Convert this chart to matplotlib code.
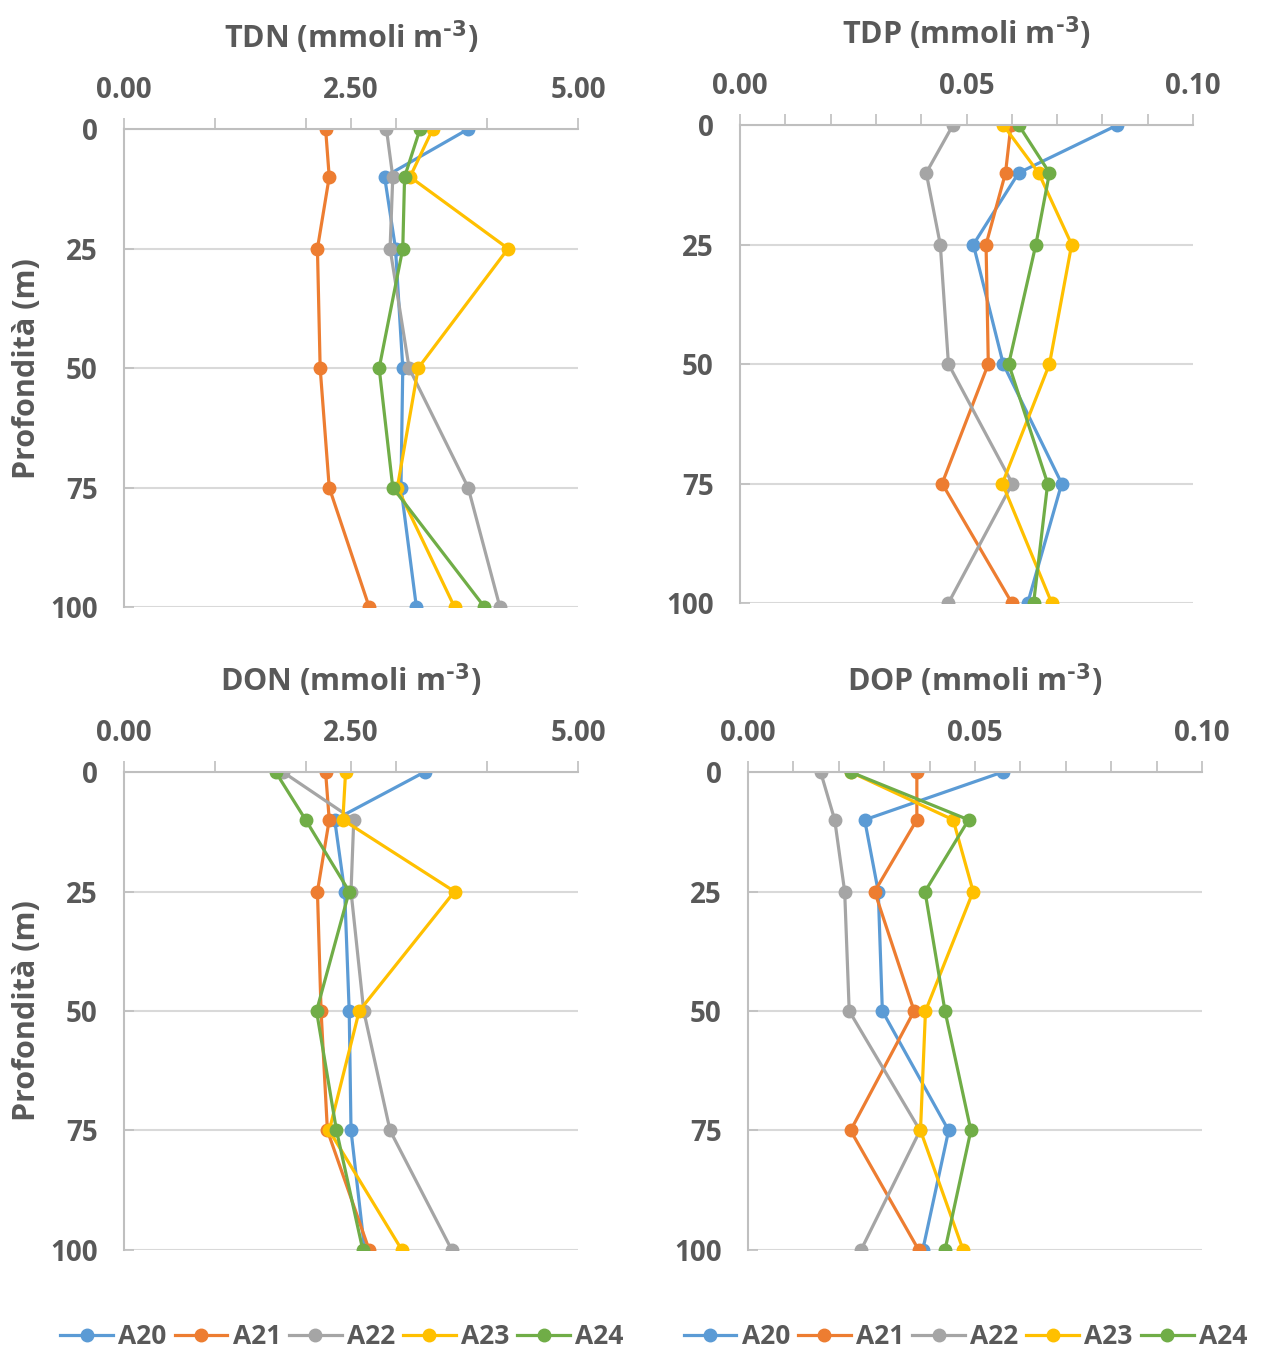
import matplotlib
matplotlib.use("Agg")
import matplotlib.pyplot as plt
from matplotlib.ticker import MultipleLocator
from matplotlib.lines import Line2D

plt.rcParams['font.family'] = ['Open Sans', 'DejaVu Sans']
plt.rcParams['font.weight'] = 'bold'
plt.rcParams['mathtext.default'] = 'regular'

depths = [0, 10, 25, 50, 75, 100]
stations = ['A20', 'A21', 'A22', 'A23', 'A24']
colors = ['#5B9BD5', '#ED7D31', '#A5A5A5', '#FFC000', '#70AD47']

tdn = {
    'A20': [3.79, 2.87, 2.99, 3.07, 3.05, 3.22],
    'A21': [2.22, 2.26, 2.13, 2.16, 2.26, 2.70],
    'A22': [2.89, 2.96, 2.93, 3.14, 3.79, 4.14],
    'A23': [3.40, 3.15, 4.23, 3.24, 3.01, 3.64],
    'A24': [3.26, 3.09, 3.07, 2.81, 2.96, 3.97],
}
tdp = {
    'A20': [0.0833, 0.0615, 0.0515, 0.0581, 0.0710, 0.0635],
    'A21': [0.0598, 0.0586, 0.0543, 0.0548, 0.0446, 0.0600],
    'A22': [0.0470, 0.0411, 0.0442, 0.0460, 0.0601, 0.0460],
    'A23': [0.0581, 0.0659, 0.0732, 0.0683, 0.0579, 0.0688],
    'A24': [0.0615, 0.0683, 0.0653, 0.0593, 0.0679, 0.0648],
}
don = {
    'A20': [3.31, 2.32, 2.43, 2.48, 2.50, 2.65],
    'A21': [2.22, 2.26, 2.13, 2.17, 2.24, 2.70],
    'A22': [1.75, 2.53, 2.50, 2.64, 2.93, 3.61],
    'A23': [2.44, 2.41, 3.64, 2.59, 2.26, 3.06],
    'A24': [1.67, 2.00, 2.48, 2.12, 2.34, 2.63],
}
dop = {
    'A20': [0.0561, 0.0257, 0.0287, 0.0296, 0.0442, 0.0385],
    'A21': [0.0372, 0.0372, 0.0279, 0.0366, 0.0226, 0.0376],
    'A22': [0.0160, 0.0191, 0.0213, 0.0223, 0.0379, 0.0249],
    'A23': [0.0226, 0.0452, 0.0496, 0.0391, 0.0380, 0.0474],
    'A24': [0.0226, 0.0486, 0.0390, 0.0434, 0.0491, 0.0434],
}

txt = '#595959'
grid = '#D9D9D9'
axc = '#BFBFBF'

fig = plt.figure(figsize=(12.62, 13.49), dpi=100)

panels = [
    (tdn, r'TDN (mmoli m$^{\text{-3}}$)', [0.0983, 0.550, 0.3597, 0.3543], 5.0, 2.5, 1.0, True),
    (tdp, r'TDP (mmoli m$^{\text{-3}}$)', [0.5864, 0.553, 0.3590, 0.3543], 0.10, 0.05, 0.01, False),
    (don, r'DON (mmoli m$^{\text{-3}}$)', [0.0983, 0.0734, 0.3597, 0.3543], 5.0, 2.5, 1.0, True),
    (dop, r'DOP (mmoli m$^{\text{-3}}$)', [0.5927, 0.0734, 0.3597, 0.3543], 0.10, 0.05, 0.01, False),
]

for data, title, rect, xmax, major, minor, ylab in panels:
    ax = fig.add_axes(rect)
    for s, c in zip(stations, colors):
        ax.plot(data[s], depths, color=c, lw=2.3, marker='o', ms=9, label=s)
    ax.set_xlim(0, xmax)
    ax.set_ylim(100, 0)
    ax.xaxis.set_major_locator(MultipleLocator(major))
    ax.xaxis.set_minor_locator(MultipleLocator(minor))
    ax.xaxis.set_major_formatter(plt.FormatStrFormatter('%.2f'))
    ax.yaxis.set_major_locator(MultipleLocator(25))
    ax.xaxis.tick_top()
    ax.tick_params(axis='x', which='both', direction='out', length=8, width=1.2,
                   color=axc, labelsize=20, labelcolor=txt, pad=9)
    ax.tick_params(axis='y', direction='in', length=7, width=1.2, color=axc,
                   labelsize=20, labelcolor=txt, pad=19)
    ax.grid(axis='y', color=grid, lw=1.5)
    ax.set_axisbelow(True)
    for sp in ['right', 'bottom']:
        ax.spines[sp].set_visible(False)
    for sp in ['left', 'top']:
        ax.spines[sp].set_color(axc)
        ax.spines[sp].set_linewidth(1.5)
    ax.set_title(title, fontsize=22, color=txt, fontweight='bold', pad=58)
    if ylab:
        ax.set_ylabel('Profondità (m)', fontsize=22, color=txt, fontweight='bold', labelpad=6)

handles = [Line2D([], [], color=c, lw=2.3, marker='o', ms=9) for c in colors]
for xc in [0.271, 0.765]:
    fig.legend(handles, stations, loc='center', bbox_to_anchor=(xc, 0.009), ncol=5,
               frameon=False, fontsize=19, labelcolor=txt, handlelength=2.0,
               handletextpad=0.2, columnspacing=0.3)

fig.savefig('out.png', dpi=100)
